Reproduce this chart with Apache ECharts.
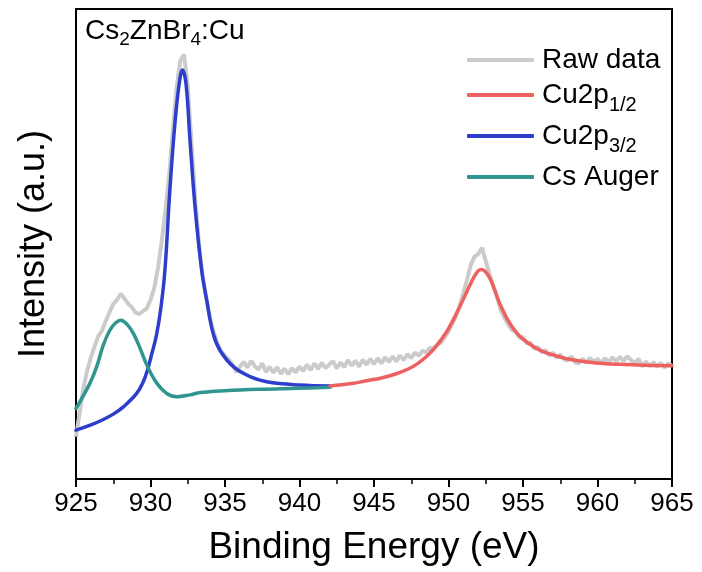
<!DOCTYPE html>
<html>
<head>
<meta charset="utf-8">
<script src="https://cdn.jsdelivr.net/npm/echarts@6/dist/echarts.min.js"></script>
<style>
  html, body { margin: 0; padding: 0; background: #fff; }
  #chart { width: 702px; height: 572px; }
</style>
</head>
<body>
<div id="chart"></div>
<script>
// Cu 2p XPS spectrum of Cs2ZnBr4:Cu with peak fits

// measured spectrum, 0.25 eV steps starting at 925 eV (one row per eV)
const rawStart = 925;
const rawStep = 0.25;
const rawIntensity = [
  9.0, 14.2, 19.4, 23.1,
  25.9, 28.2, 30.4, 31.6,
  33.6, 35.5, 37.2, 38.1,
  39.4, 38.4, 37.3, 36.5,
  35.4, 35.1, 35.7, 36.3,
  38.1, 40.6, 44.8, 50.6,
  57.0, 64.5, 74.0, 83.2,
  89.0, 90.3, 83.5, 71.5,
  59.5, 50.2, 43.4, 38.3,
  34.2, 31.2, 28.8, 27.1,
  26.2, 25.4, 24.5, 22.7,
  23.9, 24.9, 23.7, 25.1,
  24.0, 23.3, 24.6, 22.8,
  23.9, 22.6, 23.8, 22.4,
  23.5, 22.3, 23.6, 22.7,
  23.9, 23.0, 24.3, 23.2,
  24.6, 23.4, 24.7, 23.6,
  24.4, 25.1, 23.5, 24.8,
  23.8, 25.3, 24.1, 25.2,
  23.9, 25.4, 24.3, 25.6,
  24.4, 25.7, 24.6, 25.9,
  24.9, 26.1, 25.0, 26.3,
  25.3, 26.6, 25.7, 26.9,
  26.2, 27.3, 26.9, 27.9,
  27.8, 28.6, 29.0, 30.2,
  31.4, 33.0, 34.6, 36.9,
  39.6, 42.5, 45.6, 47.3,
  47.9, 49.2, 46.4, 43.6,
  41.2, 38.9, 36.0, 34.3,
  32.9, 31.7, 31.4, 30.1,
  30.2, 28.9, 29.0, 27.7,
  28.1, 27.0, 27.4, 26.3,
  26.9, 25.8, 26.5, 25.5,
  25.2, 26.1, 24.8, 24.6,
  25.6, 24.7, 25.8, 24.9,
  25.6, 24.6, 25.7, 24.8,
  25.9, 25.0, 26.0, 25.1,
  26.1, 25.3, 24.6, 25.6,
  23.9, 25.0, 24.0, 24.9,
  23.9, 24.7, 23.7, 24.6,
  24.0
];

// Cu 2p1/2 fit component
const cu12Energy = [942.05, 943.5, 944.5, 945.5, 946.5, 947.3, 947.9, 948.5, 949.0, 949.5, 950.0, 950.5, 951.0, 951.4, 951.75, 952.0, 952.2, 952.45, 952.75, 953.05, 953.4, 953.9, 954.4, 954.9, 955.5, 956.2, 957.0, 957.8, 958.8, 959.9, 961.5, 963.2, 965];
const cu12Intensity = [19.8, 20.3, 20.9, 21.5, 22.4, 23.4, 24.5, 26.0, 27.6, 29.6, 32.0, 35.0, 38.3, 41.0, 43.2, 44.3, 44.6, 44.2, 42.9, 40.6, 37.6, 34.3, 31.8, 30.0, 28.6, 27.3, 26.4, 25.7, 25.1, 24.7, 24.4, 24.2, 24.1];

// Cu 2p3/2 fit component
const cu32Energy = [925, 926, 926.8, 927.5, 928.2, 929.07, 929.5, 929.8, 930.1, 930.4, 930.7, 930.97, 931.3, 931.64, 931.93, 932.14, 932.38, 932.65, 932.99, 933.43, 933.77, 934.2, 934.66, 935.56, 936.68, 937.8, 940.03, 942.05];
const cu32Intensity = [10.4, 11.5, 12.6, 13.8, 15.4, 18.2, 20.6, 23.2, 26.8, 30.6, 36.5, 44.5, 61.5, 75.7, 84.2, 87.0, 84.2, 72.1, 57.9, 44.5, 38.1, 31.0, 27.4, 23.9, 21.8, 20.7, 20.0, 19.8];

// Cs Auger fit component
const augerEnergy = [925, 925.94, 926.39, 926.83, 927.28, 927.65, 928.02, 928.4, 928.85, 929.3, 929.79, 930.42, 931.09, 931.76, 932.65, 933.32, 935, 937.3, 940, 942.05];
const augerIntensity = [15.0, 20.4, 23.9, 28.5, 31.7, 33.2, 33.8, 33.0, 31.0, 27.8, 24.0, 20.4, 18.2, 17.5, 17.9, 18.4, 18.8, 19.1, 19.3, 19.5];

const xTicks = { min: 925, max: 965, interval: 5 };
const seriesNames = ['Raw data', 'Cu2p1/2', 'Cu2p3/2', 'Cs Auger'];
const legendLabels = {
  'Raw data': '{m|Raw data}',
  'Cu2p1/2': '{m|Cu2p}{s|1/2}',
  'Cu2p3/2': '{m|Cu2p}{s|3/2}',
  'Cs Auger': '{m|Cs Auger}'
};
const sampleTitle = '{m|Cs}{s|2}{m|ZnBr}{s|4}{m|:Cu}';

const FONT = '"Liberation Sans", Arial, sans-serif';
const pair = (xs, ys) => xs.map((x, i) => [x, ys[i]]);
const rawData = rawIntensity.map((v, i) => [rawStart + rawStep * i, v]);

const chart = echarts.init(document.getElementById('chart'), null, { renderer: 'canvas' });
chart.setOption({
  animation: false,
  backgroundColor: '#fff',
  textStyle: { fontFamily: FONT },
  grid: { left: 76, right: 30, top: 9, bottom: 93, show: true, borderColor: '#000', borderWidth: 2 },
  title: {
    text: sampleTitle,
    left: 85, top: 14, padding: 0,
    textStyle: {
      fontWeight: 'normal',
      rich: {
        m: { fontFamily: FONT, fontSize: 28, fontWeight: 'normal', color: '#000', lineHeight: 35 },
        s: { fontFamily: FONT, fontSize: 19, fontWeight: 'normal', color: '#000', lineHeight: 19, verticalAlign: 'bottom' }
      }
    }
  },
  legend: {
    data: seriesNames,
    orient: 'vertical',
    left: 462, top: 41,
    itemWidth: 67, itemHeight: 4, itemGap: 7,
    icon: 'roundRect',
    formatter: n => legendLabels[n],
    textStyle: {
      padding: [0, 0, 0, 3],
      rich: {
        m: { fontFamily: FONT, fontSize: 28, color: '#000', lineHeight: 40 },
        s: { fontFamily: FONT, fontSize: 20, color: '#000', lineHeight: 19, verticalAlign: 'bottom' }
      }
    }
  },
  xAxis: {
    type: 'value',
    min: xTicks.min, max: xTicks.max, interval: xTicks.interval,
    name: 'Binding Energy (eV)', nameLocation: 'middle', nameGap: 50,
    nameTextStyle: { fontFamily: FONT, fontSize: 37, color: '#000' },
    axisLine: { lineStyle: { color: '#000', width: 2 } },
    axisTick: { length: 8, lineStyle: { color: '#000', width: 2 } },
    minorTick: { show: true, splitNumber: 2, length: 5, lineStyle: { color: '#000', width: 1.5 } },
    axisLabel: { fontFamily: FONT, fontSize: 26, color: '#000', margin: 12 },
    splitLine: { show: false }
  },
  yAxis: {
    type: 'value', min: 0, max: 100,
    name: 'Intensity (a.u.)', nameLocation: 'middle', nameGap: 24,
    nameTextStyle: { fontFamily: FONT, fontSize: 36, color: '#000' },
    axisLine: { show: true, lineStyle: { color: '#000', width: 2 } },
    axisTick: { show: false },
    axisLabel: { show: false },
    splitLine: { show: false }
  },
  series: [
    {
      name: 'Raw data', type: 'line', data: rawData, showSymbol: false,
      color: '#cbcbcb', lineStyle: { width: 4, color: '#cbcbcb' }, z: 1
    },
    {
      name: 'Cu2p1/2', type: 'line', data: pair(cu12Energy, cu12Intensity), showSymbol: false, smooth: 0.4,
      color: '#ee6161', lineStyle: { width: 3.5, color: '#ee6161', cap: 'round' }, z: 3
    },
    {
      name: 'Cu2p3/2', type: 'line', data: pair(cu32Energy, cu32Intensity), showSymbol: false, smooth: 0.4,
      color: '#2d3dcc', lineStyle: { width: 3.5, color: '#2d3dcc', cap: 'round' }, z: 2
    },
    {
      name: 'Cs Auger', type: 'line', data: pair(augerEnergy, augerIntensity), showSymbol: false, smooth: 0.4,
      color: '#31958f', lineStyle: { width: 3.5, color: '#31958f', cap: 'round' }, z: 2
    }
  ]
});
</script>
</body>
</html>
